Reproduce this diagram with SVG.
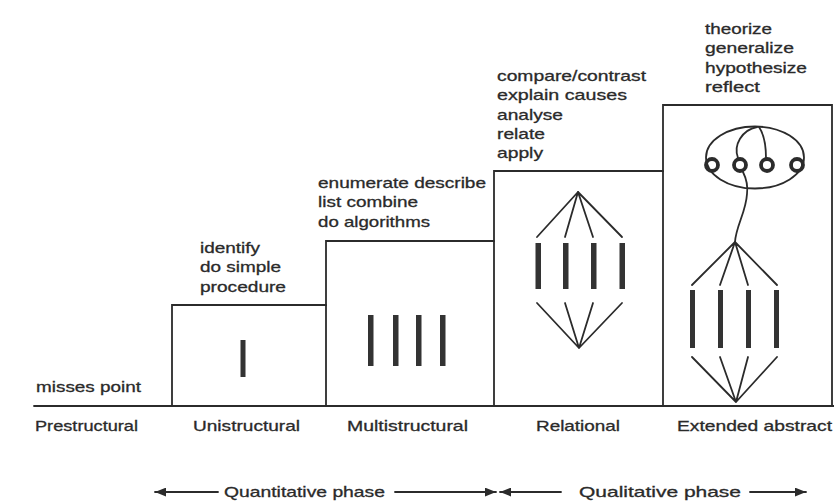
<svg xmlns="http://www.w3.org/2000/svg" width="834" height="501" viewBox="0 0 834 501">
  <defs>
    <style>
      .line { fill: none; stroke: #2b2b2b; stroke-width: 1.8; stroke-linecap: round; }
      .bar { fill: #333; }
      .ring { fill: none; stroke: #2b2b2b; stroke-width: 3.8; }
      .t { font-family: "Liberation Sans", Arial, sans-serif; font-size: 15px; fill: #2a2a2a; stroke: #2a2a2a; stroke-width: 0.3; }
    </style>
    <marker id="head" viewBox="0 0 10 8" refX="10" refY="4" markerWidth="11" markerHeight="9" markerUnits="userSpaceOnUse" orient="auto">
      <path d="M0,0 L10,4 L0,8 Z" fill="#2b2b2b"/>
    </marker>
  </defs>
  <rect width="834" height="501" fill="#ffffff"/>

  <!-- staircase frame and ground line -->
  <g id="frame">
    <path class="line" d="M34,406 H834"/>
    <path class="line" d="M172,406 V305 H326 V241 H494 V171 H663 V105 H832 V406"/>
    <path class="line" d="M326,305 V406 M494,241 V406 M663,171 V406"/>
  </g>

  <!-- Prestructural -->
  <g id="prestructural">
    <text class="t" x="36" y="392" textLength="105" lengthAdjust="spacingAndGlyphs">misses point</text>
    <text class="t" x="35" y="431" textLength="103" lengthAdjust="spacingAndGlyphs">Prestructural</text>
  </g>

  <!-- Unistructural -->
  <g id="unistructural">
    <text class="t" x="200" y="253" textLength="60" lengthAdjust="spacingAndGlyphs">identify</text>
    <text class="t" x="200" y="272" textLength="81" lengthAdjust="spacingAndGlyphs">do simple</text>
    <text class="t" x="200" y="292" textLength="86" lengthAdjust="spacingAndGlyphs">procedure</text>
    <rect class="bar" x="240.5" y="340" width="5" height="37"/>
    <text class="t" x="193" y="431" textLength="107" lengthAdjust="spacingAndGlyphs">Unistructural</text>
  </g>

  <!-- Multistructural -->
  <g id="multistructural">
    <text class="t" x="318" y="188" textLength="168" lengthAdjust="spacingAndGlyphs">enumerate describe</text>
    <text class="t" x="318" y="207" textLength="100" lengthAdjust="spacingAndGlyphs">list combine</text>
    <text class="t" x="318" y="227" textLength="112" lengthAdjust="spacingAndGlyphs">do algorithms</text>
    <rect class="bar" x="368" y="315" width="5.5" height="51"/>
    <rect class="bar" x="393" y="315" width="5.5" height="51"/>
    <rect class="bar" x="416" y="315" width="5.5" height="51"/>
    <rect class="bar" x="440" y="315" width="5.5" height="51"/>
    <text class="t" x="347" y="431" textLength="121" lengthAdjust="spacingAndGlyphs">Multistructural</text>
  </g>

  <!-- Relational -->
  <g id="relational">
    <text class="t" x="497" y="81" textLength="149" lengthAdjust="spacingAndGlyphs">compare/contrast</text>
    <text class="t" x="497" y="100" textLength="130" lengthAdjust="spacingAndGlyphs">explain causes</text>
    <text class="t" x="497" y="120" textLength="66" lengthAdjust="spacingAndGlyphs">analyse</text>
    <text class="t" x="497" y="139" textLength="48" lengthAdjust="spacingAndGlyphs">relate</text>
    <text class="t" x="497" y="158" textLength="46" lengthAdjust="spacingAndGlyphs">apply</text>
    <path class="line" d="M578,192 L537,237 M578,192 L565,237 M578,192 L593,237 M578,192 L622,237"/>
    <rect class="bar" x="535.5" y="243" width="5.5" height="46"/>
    <rect class="bar" x="563" y="243" width="5.5" height="46"/>
    <rect class="bar" x="591" y="243" width="5.5" height="46"/>
    <rect class="bar" x="619.5" y="243" width="5.5" height="46"/>
    <path class="line" d="M537,303 L579,348 M565,303 L579,348 M593,303 L579,348 M622,303 L579,348"/>
    <text class="t" x="536" y="431" textLength="84" lengthAdjust="spacingAndGlyphs">Relational</text>
  </g>

  <!-- Extended abstract -->
  <g id="extended-abstract">
    <text class="t" x="705" y="34" textLength="67" lengthAdjust="spacingAndGlyphs">theorize</text>
    <text class="t" x="705" y="53" textLength="89" lengthAdjust="spacingAndGlyphs">generalize</text>
    <text class="t" x="705" y="73" textLength="102" lengthAdjust="spacingAndGlyphs">hypothesize</text>
    <text class="t" x="705" y="92" textLength="55" lengthAdjust="spacingAndGlyphs">reflect</text>
    <ellipse class="line" cx="755" cy="157.5" rx="49" ry="31"/>
    <path class="line" d="M757,127 C742,130 733,145 738,158"/>
    <path class="line" d="M759,127 C765,136 766,148 766,158"/>
    <path class="line" d="M743,172 C747,180 748,186 747,194 C746,212 736,226 735,242"/>
    <circle class="ring" cx="712" cy="165" r="6"/>
    <circle class="ring" cx="740" cy="165" r="6"/>
    <circle class="ring" cx="767" cy="165" r="6"/>
    <circle class="ring" cx="797" cy="165" r="6"/>
    <path class="line" d="M735,242 L692,285 M735,242 L720,285 M735,242 L748,285 M735,242 L777,285"/>
    <rect class="bar" x="690" y="290" width="5" height="58"/>
    <rect class="bar" x="718" y="290" width="5" height="58"/>
    <rect class="bar" x="746" y="290" width="5" height="58"/>
    <rect class="bar" x="774" y="290" width="5" height="58"/>
    <path class="line" d="M692,357 L736,402 M720,357 L736,402 M748,357 L736,402 M777,357 L736,402"/>
    <text class="t" x="677" y="431" textLength="155" lengthAdjust="spacingAndGlyphs">Extended abstract</text>
  </g>

  <!-- phase arrows -->
  <g id="connectors">
    <path class="line" d="M218,492 H155" marker-end="url(#head)"/>
    <path class="line" d="M395,492 H496" marker-end="url(#head)"/>
    <path class="line" d="M561,492 H500" marker-end="url(#head)"/>
    <path class="line" d="M750,492 H806" marker-end="url(#head)"/>
  </g>
  <g id="phases">
    <text class="t" x="224" y="497" textLength="161" lengthAdjust="spacingAndGlyphs">Quantitative phase</text>
    <text class="t" x="579" y="497" textLength="162" lengthAdjust="spacingAndGlyphs">Qualitative phase</text>
  </g>
</svg>
